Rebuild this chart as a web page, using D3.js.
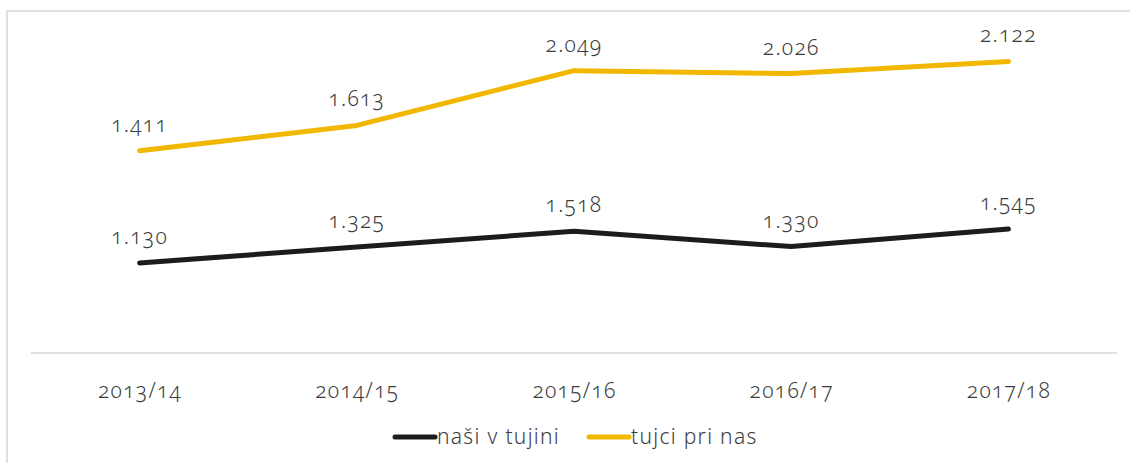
<!DOCTYPE html>
<html>
<head>
<meta charset="utf-8">
<script src="https://cdn.jsdelivr.net/npm/d3@7"></script>
<style>
	body { margin: 0; background: #fff; }
	svg text { font-family: "Noto Sans", sans-serif; font-variant-numeric: oldstyle-nums; fill: #3c3c3c; letter-spacing: 1.3px; }
</style>
</head>
<body>
<div id="viz"></div>
<script>
const years = ['2013/14', '2014/15', '2015/16', '2016/17', '2017/18'];
const nasiVTujini = [1130, 1325, 1518, 1330, 1545];
const tujciPriNas = [1411, 1613, 2049, 2026, 2122];
const seriesNames = ['naši v tujini', 'tujci pri nas'];
const seriesColors = ['#1c1c1c', '#f2b700'];

let width = 1130, height = 463;

let svg = d3.select('#viz').append('svg')
	.attr('width', width)
	.attr('height', height);

// frame
svg.append('rect')
	.attr('x', 7).attr('y', 11)
	.attr('width', 1140).attr('height', 470)
	.attr('fill', 'none')
	.attr('stroke', '#e0e0e0')
	.attr('stroke-width', 2);

let x = d3.scalePoint()
	.domain(years)
	.range([31, 1117])
	.padding(0.5);

// two value axes, neither drawn
let yBlack = d3.scaleLinear().domain([0, 4000]).range([355, 29]);
let yYellow = d3.scaleLinear().domain([0, 2500]).range([328, 14]);

let xAxis = g => g
	.attr('transform', 'translate(0,353)')
	.call(d3.axisBottom(x).tickSize(0).tickPadding(30))
	.call(g => g.select('.domain').attr('stroke', '#d9d9d9').attr('stroke-width', 1.5).attr('d', 'M31,0H1117'))
	.call(g => g.selectAll('text').attr('font-size', 21).style('font-family', '"Noto Sans", sans-serif').attr('font-weight', 300).attr('fill', '#3c3c3c'));

svg.append('g').call(xAxis);

let series = [
	{ name: seriesNames[0], values: nasiVTujini, y: yBlack, color: seriesColors[0] },
	{ name: seriesNames[1], values: tujciPriNas, y: yYellow, color: seriesColors[1] }
];

for (let s of series) {
	let line = d3.line()
		.x((d, i) => x(years[i]))
		.y(d => s.y(d));

	svg.append('path')
		.datum(s.values)
		.attr('fill', 'none')
		.attr('stroke', s.color)
		.attr('stroke-width', 5)
		.attr('stroke-linejoin', 'round')
		.attr('stroke-linecap', 'round')
		.attr('d', line);

	svg.append('g')
		.selectAll('text')
		.data(s.values)
		.join('text')
		.attr('x', (d, i) => x(years[i]))
		.attr('y', d => s.y(d) - 19)
		.attr('text-anchor', 'middle')
		.attr('font-size', 21)
		.attr('font-weight', 300)
		.text(d => d3.format(',')(d).replace(',', '.'));
}

// legend
let legend = svg.append('g').attr('transform', 'translate(393,437)');
let legendX = [0, 194];
series.forEach((s, i) => {
	let g = legend.append('g').attr('transform', `translate(${legendX[i]},0)`);
	g.append('line')
		.attr('x1', 2).attr('x2', 42)
		.attr('stroke', s.color)
		.attr('stroke-width', 5)
		.attr('stroke-linecap', 'round');
	g.append('text')
		.attr('x', 44)
		.attr('y', 7)
		.attr('font-size', 21)
		.attr('font-weight', 300)
		.text(s.name);
});
</script>
</body>
</html>
